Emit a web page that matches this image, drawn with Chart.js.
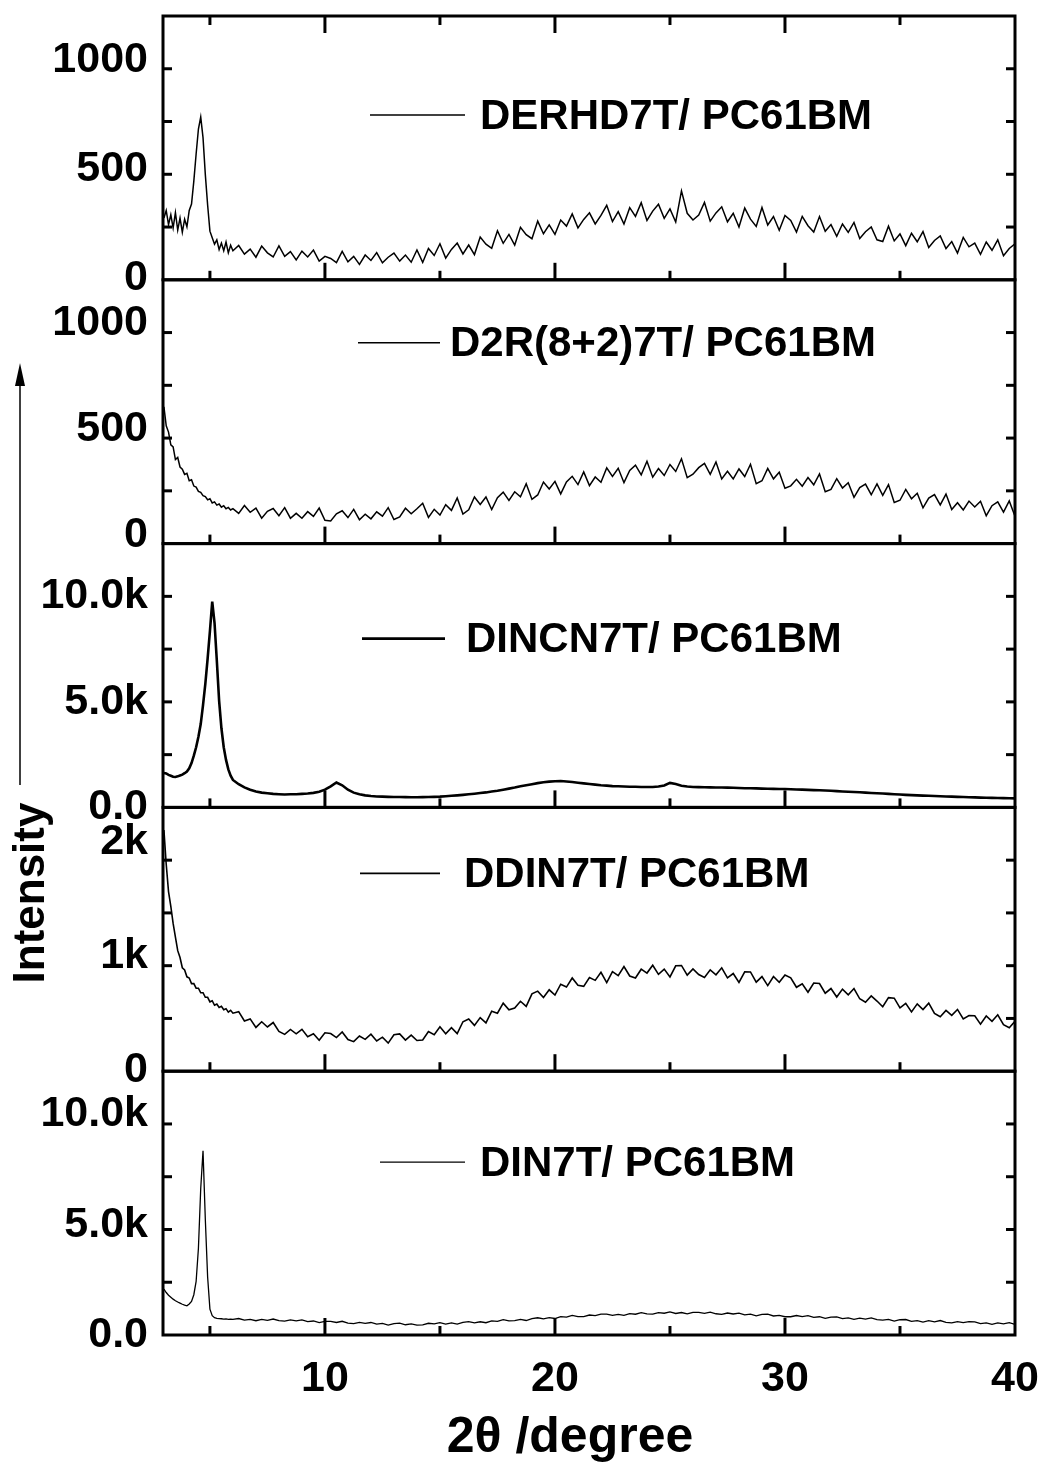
<!DOCTYPE html>
<html>
<head>
<meta charset="utf-8">
<title>XRD patterns of blend films</title>
<script src="https://cdn.jsdelivr.net/npm/chart.js@4.4.0/dist/chart.umd.min.js"></script>
<style>
    html, body { margin: 0; padding: 0; background: #fff; }
    #wrap { width: 1040px; height: 1463px; }
</style>
</head>
<body>
<div id="wrap"><canvas id="xrdChart" width="1040" height="1463"></canvas></div>
<script>
// 2-theta sampling (finer around the low-angle peaks)
const angles = [
    3.0, 3.1, 3.2, 3.3, 3.4, 3.5, 3.6, 3.7, 3.8, 3.9, 4.0, 4.1, 4.2, 4.3, 4.4, 4.5,
    4.6, 4.7, 4.8, 4.9, 5.0, 5.1, 5.2, 5.3, 5.4, 5.5, 5.6, 5.7, 5.8, 5.9, 6.0,
    6.25, 6.5, 6.75, 7, 7.25, 7.5, 7.75, 8, 8.25, 8.5, 8.75, 9, 9.25, 9.5, 9.75, 10,
    10.25, 10.5, 10.75, 11, 11.25, 11.5, 11.75, 12, 12.25, 12.5, 12.75, 13, 13.25, 13.5, 13.75, 14,
    14.25, 14.5, 14.75, 15, 15.25, 15.5, 15.75, 16, 16.25, 16.5, 16.75, 17, 17.25, 17.5, 17.75, 18,
    18.25, 18.5, 18.75, 19, 19.25, 19.5, 19.75, 20, 20.25, 20.5, 20.75, 21, 21.25, 21.5, 21.75, 22,
    22.25, 22.5, 22.75, 23, 23.25, 23.5, 23.75, 24, 24.25, 24.5, 24.75, 25, 25.25, 25.5, 25.75, 26,
    26.25, 26.5, 26.75, 27, 27.25, 27.5, 27.75, 28, 28.25, 28.5, 28.75, 29, 29.25, 29.5, 29.75, 30,
    30.25, 30.5, 30.75, 31, 31.25, 31.5, 31.75, 32, 32.25, 32.5, 32.75, 33, 33.25, 33.5, 33.75, 34,
    34.25, 34.5, 34.75, 35, 35.25, 35.5, 35.75, 36, 36.25, 36.5, 36.75, 37, 37.25, 37.5, 37.75, 38,
    38.25, 38.5, 38.75, 39, 39.25, 39.5, 39.75, 40
];

// Intensities per film
const derhd7t = [
    270, 305, 240, 285, 225, 295, 215, 270, 205, 265,
    230, 305, 335, 440, 565, 680, 735, 640, 470, 330,
    210, 180, 150, 170, 125, 155, 120, 160, 110, 145, 120,
    144, 104, 127, 90, 141, 110, 91, 142, 94, 116, 78, 118, 91, 123, 72, 94,
    84, 65, 117, 69, 94, 57, 100, 75, 111, 64, 90, 109, 72, 100, 67, 123,
    66, 130, 98, 152, 86, 126, 155, 105, 146, 102, 183, 150, 131, 212, 154, 195,
    146, 228, 194, 175, 256, 198, 239, 195, 261, 233, 289, 225, 264, 294, 243, 282,
    329, 254, 300, 243, 318, 278, 341, 259, 302, 334, 269, 312, 252, 395, 292, 261,
    284, 342, 256, 294, 322, 253, 292, 229, 316, 265, 232, 319, 238, 277, 214, 282,
    259, 206, 278, 235, 206, 277, 209, 240, 186, 243, 204, 250, 176, 207, 229, 170,
    162, 233, 165, 197, 143, 200, 161, 208, 135, 167, 188, 130, 162, 109, 181, 138,
    155, 103, 160, 122, 170, 97, 130, 152
];
const d2r827t = [
    600, 510, 480, 420, 410, 350, 360, 315, 305, 280,
    285, 250, 255, 225, 220, 200, 195, 180, 175, 160,
    165, 145, 150, 135, 140, 125, 132, 118, 124, 112, 118,
    96, 133, 101, 121, 73, 106, 119, 85, 123, 73, 96, 73, 104, 82, 121, 63,
    60, 94, 108, 76, 115, 66, 92, 70, 103, 83, 123, 67, 79, 120, 94, 118,
    144, 77, 115, 88, 137, 110, 169, 93, 113, 173, 138, 173, 114, 170, 196, 157,
    198, 174, 236, 162, 183, 244, 211, 247, 188, 244, 271, 232, 292, 227, 268, 243,
    311, 270, 309, 241, 299, 324, 278, 342, 267, 308, 275, 327, 294, 354, 265, 281,
    312, 332, 280, 339, 259, 295, 259, 306, 270, 328, 236, 250, 308, 259, 290, 215,
    226, 257, 224, 265, 231, 282, 198, 209, 260, 216, 241, 172, 218, 234, 184, 235,
    181, 232, 147, 158, 209, 165, 191, 122, 168, 185, 136, 187, 114, 146, 112, 154,
    126, 153, 85, 132, 150, 102, 155, 82
];
const dincn7t = [
    1580, 1560, 1490, 1450, 1400, 1390, 1420, 1460, 1500, 1570,
    1650, 1800, 2050, 2400, 2800, 3300, 3900, 4800, 5800, 7000,
    8300, 9700, 8700, 6900, 5000, 3700, 2800, 2200, 1750, 1450, 1250,
    1050, 900, 790, 700, 650, 620, 590, 575, 560, 570, 575, 590, 610, 640, 690, 790,
    950, 1130, 1000, 790, 650, 570, 520, 490, 470, 460, 450, 445, 440, 435, 430, 430,
    435, 440, 450, 460, 480, 500, 520, 545, 570, 600, 630, 660, 700, 740, 790, 840,
    890, 950, 1000, 1050, 1100, 1140, 1170, 1190, 1200, 1180, 1150, 1120, 1090, 1060, 1030, 1000,
    980, 960, 950, 940, 930, 925, 920, 915, 915, 940, 990, 1110, 1060, 980, 940, 920,
    910, 905, 900, 895, 890, 885, 880, 870, 860, 855, 850, 840, 835, 830, 825, 820,
    810, 800, 790, 780, 770, 760, 750, 740, 720, 705, 690, 680, 665, 650, 635, 620,
    605, 590, 575, 560, 545, 530, 520, 510, 500, 490, 480, 470, 460, 450, 440, 430,
    425, 415, 410, 400, 395, 390, 385, 380
];
const ddin7t = [
    2100, 1800, 1560, 1430, 1280, 1160, 1040, 980, 890, 870,
    810, 800, 750, 750, 710, 710, 670, 670, 630, 630,
    590, 600, 560, 570, 540, 550, 520, 530, 500, 515, 490,
    504, 422, 440, 365, 415, 369, 408, 330, 304, 347, 309, 348, 283, 309, 252, 318,
    311, 276, 325, 258, 240, 290, 260, 306, 246, 279, 227, 300, 308, 253, 297, 250,
    254, 328, 301, 370, 309, 363, 311, 415, 439, 383, 451, 405, 508, 490, 578, 520,
    535, 595, 550, 660, 684, 628, 696, 650, 745, 720, 800, 735, 726, 803, 779, 850,
    759, 855, 820, 901, 817, 800, 877, 843, 912, 832, 878, 809, 907, 910, 825, 879,
    830, 804, 871, 828, 889, 801, 839, 761, 854, 853, 763, 812, 733, 813, 762, 826,
    801, 718, 749, 675, 755, 751, 666, 707, 632, 702, 652, 707, 617, 587, 642, 597,
    547, 627, 622, 537, 577, 502, 572, 522, 578, 489, 459, 515, 471, 523, 439, 470,
    467, 394, 466, 418, 476, 389, 362, 420
];
const din7t = [
    2050, 1900, 1780, 1690, 1600, 1530, 1470, 1420, 1370, 1330,
    1300, 1380, 1500, 1800, 2400, 3900, 6600, 8300, 5200, 2600,
    1150, 850, 760, 730, 720, 715, 700, 705, 690, 695, 690,
    725, 650, 685, 625, 689, 643, 701, 625, 603, 660, 618, 660, 581, 613, 539, 600,
    595, 545, 600, 520, 495, 550, 505, 545, 469, 503, 431, 495, 514, 443, 481, 425,
    440, 510, 480, 535, 475, 525, 470, 550, 583, 525, 578, 535, 620, 595, 675, 620,
    630, 685, 635, 720, 758, 705, 763, 725, 810, 785, 865, 810, 806, 883, 859, 920,
    925, 865, 915, 870, 949, 918, 991, 930, 921, 993, 964, 1020, 953, 995, 933, 1005,
    1004, 958, 1016, 940, 916, 973, 929, 970, 891, 923, 849, 910, 920, 840, 870, 805,
    805, 860, 815, 855, 775, 805, 730, 790, 800, 720, 750, 685, 745, 695, 750, 670,
    655, 685, 610, 670, 680, 600, 630, 565, 626, 578, 634, 555, 531, 588, 544, 585,
    573, 495, 528, 465, 528, 480, 538, 460
];

const seriesNames = ['DERHD7T/ PC61BM', 'D2R(8+2)7T/ PC61BM', 'DINCN7T/ PC61BM', 'DDIN7T/ PC61BM', 'DIN7T/ PC61BM'];

// Tick labels
const xTickValues = [10, 20, 30, 40];
const xTickLabels = ['10', '20', '30', '40'];
const yLabelValues = [[0, 500, 1000], [0, 500, 1000], [0, 5000, 10000], [0, 1000, 2000], [0, 5000, 10000]];
const yLabelTexts = [['0', '500', '1000'], ['0', '500', '1000'], ['0.0', '5.0k', '10.0k'], ['0', '1k', '2k'], ['0.0', '5.0k', '10.0k']];

// Panel setup, top to bottom
const panels = [
    { data: derhd7t, min: -14, max: 1200, step: 250, lw: 1.5 },
    { data: d2r827t, min: -47, max: 1200, step: 250, lw: 1.5 },
    { data: dincn7t, min: -50, max: 12450, step: 2500, lw: 2.6 },
    { data: ddin7t, min: -20, max: 2300, step: 500, lw: 1.6 },
    { data: din7t, min: -20, max: 11900, step: 2500, lw: 1.3 }
];
const legendLayout = [
    { dy: 99, x0: 370, x1: 465, tx: 480 },
    { dy: 63, x0: 358, x1: 440, tx: 450 },
    { dy: 95, x0: 362, x1: 445, tx: 466 },
    { dy: 66, x0: 360, x1: 440, tx: 464 },
    { dy: 91, x0: 380, x1: 465, tx: 480 }
];

const FONT = "'Liberation Sans', Arial, Helvetica, sans-serif";
Chart.defaults.font.family = FONT;
Chart.defaults.color = '#000';

function zeroPad(s) {
    s.paddingTop = 0;
    s.paddingBottom = 0;
    s.paddingLeft = 0;
    s.paddingRight = 0;
}

// Frames, inward ticks, y labels, per-panel legends, axis titles
const panelDecor = {
    id: 'panelDecor',
    afterDatasetsDraw(chart) {
        const ctx = chart.ctx;
        const area = chart.chartArea;
        const xs = chart.scales.x;
        ctx.save();
        ctx.strokeStyle = '#000';
        ctx.fillStyle = '#000';
        ctx.lineCap = 'butt';

        const seg = (x0, y0, x1, y1) => {
            ctx.beginPath();
            ctx.moveTo(x0, y0);
            ctx.lineTo(x1, y1);
            ctx.stroke();
        };

        panels.forEach((p, i) => {
            const ys = chart.scales['y' + i];
            ctx.lineWidth = 3;
            ctx.strokeRect(area.left, ys.top, area.right - area.left, ys.bottom - ys.top);

            ys.ticks.forEach(t => {
                if (t.value <= ys.min || t.value >= ys.max) return;
                const py = ys.getPixelForValue(t.value);
                const len = yLabelValues[i].includes(t.value) ? 18 : 9;
                seg(area.left, py, area.left + len, py);
                seg(area.right - len, py, area.right, py);
            });

            xs.ticks.forEach(t => {
                if (t.value <= xs.min || t.value >= xs.max) return;
                const px = xs.getPixelForValue(t.value);
                const len = t.value % 10 === 0 ? 17 : 9;
                seg(px, ys.bottom, px, ys.bottom - len);
                if (i === 0) seg(px, ys.top, px, ys.top + len);
            });

            // y tick labels
            ctx.font = 'bold 43px ' + FONT;
            ctx.textAlign = 'right';
            ctx.textBaseline = 'middle';
            yLabelValues[i].forEach((v, k) => {
                ctx.fillText(yLabelTexts[i][k], area.left - 15, ys.getPixelForValue(v) + 1);
            });

            // legend sample line + name
            const lg = legendLayout[i];
            const ly = ys.top + lg.dy;
            ctx.lineWidth = p.lw;
            seg(lg.x0, ly, lg.x1, ly);
            ctx.font = 'bold 42px ' + FONT;
            ctx.textAlign = 'left';
            ctx.fillText(seriesNames[i], lg.tx, ly + 2);
        });

        // x axis title
        ctx.font = 'bold 50px ' + FONT;
        ctx.textAlign = 'center';
        ctx.textBaseline = 'middle';
        ctx.fillText('2θ /degree', 570, 1438);

        // Intensity arrow and label
        ctx.lineWidth = 1.5;
        seg(20, 785, 20, 380);
        ctx.beginPath();
        ctx.moveTo(20, 363);
        ctx.lineTo(15, 386);
        ctx.lineTo(25, 386);
        ctx.closePath();
        ctx.fill();

        ctx.translate(32, 893);
        ctx.rotate(-Math.PI / 2);
        ctx.font = 'bold 44px ' + FONT;
        ctx.fillText('Intensity', 0, 0);
        ctx.restore();
    }
};

const scales = {
    x: {
        type: 'linear',
        min: 2.96,
        max: 40,
        grid: { display: false },
        border: { display: false },
        ticks: {
            stepSize: 5,
            includeBounds: false,
            autoSkip: false,
            maxRotation: 0,
            padding: 10,
            color: '#000',
            font: { size: 43, weight: 'bold' },
            callback: v => {
                const k = xTickValues.indexOf(v);
                return k < 0 ? '' : xTickLabels[k];
            }
        },
        afterFit: s => { zeroPad(s); s.height = 128; }
    }
};

panels.forEach((p, i) => {
    scales['y' + i] = {
        type: 'linear',
        position: 'left',
        stack: 'xrd',
        stackWeight: 1,
        weight: panels.length - i,
        min: p.min,
        max: p.max,
        grid: { display: false },
        border: { display: false },
        ticks: { stepSize: p.step, includeBounds: false, display: false },
        afterFit: s => { zeroPad(s); s.width = 163; }
    };
});

const datasets = panels.map((p, i) => ({
    label: seriesNames[i],
    data: angles.map((a, j) => ({ x: a, y: p.data[j] })),
    yAxisID: 'y' + i,
    xAxisID: 'x',
    borderColor: '#000',
    borderWidth: p.lw,
    pointRadius: 0,
    tension: 0,
    fill: false
}));

new Chart(document.getElementById('xrdChart'), {
    type: 'line',
    data: { datasets: datasets },
    options: {
        responsive: false,
        animation: false,
        layout: { padding: { left: 0, top: 16, right: 25, bottom: 0 } },
        plugins: {
            legend: { display: false },
            tooltip: { enabled: false }
        },
        scales: scales
    },
    plugins: [panelDecor]
});
</script>
</body>
</html>
